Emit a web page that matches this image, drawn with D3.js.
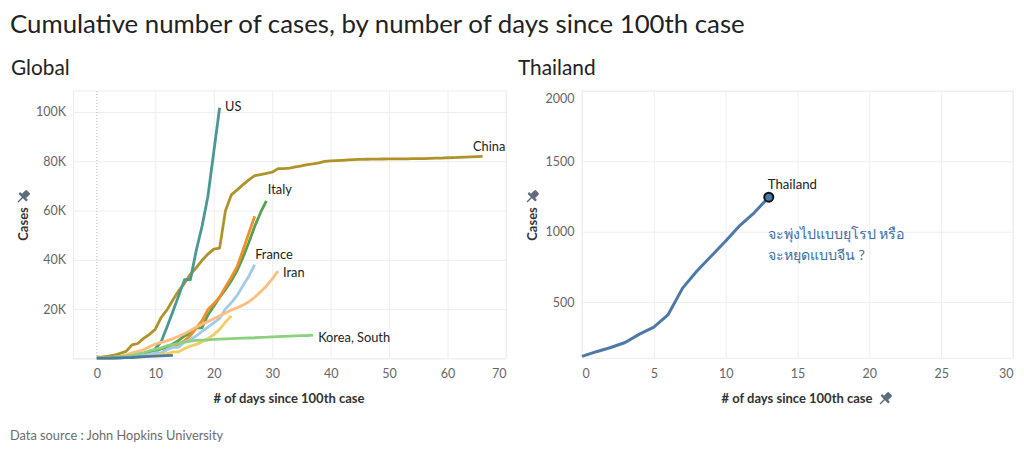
<!DOCTYPE html>
<html>
<head>
<meta charset="utf-8">
<script src="https://cdn.jsdelivr.net/npm/d3@7"></script>
<style>
    body { margin: 0; background: #fff; }
    svg text { font-family: Lato, "Open Sans", sans-serif; }
</style>
</head>
<body>
<div id="chart"></div>
<script>
// ---- data (cumulative cases, index = days since 100th case) ----
const chinaCases = [548, 643, 920, 1406, 2075, 2877, 5509, 6087, 8141, 9802,
    11891, 16630, 19716, 23707, 27440, 30587, 34110, 36814, 39829, 42354,
    44386, 44759, 59895, 66358, 68413, 70513, 72434, 74211, 74619, 75077,
    75550, 77001, 77022, 77241, 77754, 78166, 78600, 78928, 79356, 79932,
    80136, 80261, 80386, 80537, 80690, 80770, 80823, 80860, 80887, 80921,
    80932, 80945, 80977, 81003, 81033, 81058, 81102, 81156, 81250, 81305,
    81435, 81498, 81591, 81661, 81782, 81897, 81999];
const usCases = [100, 120, 160, 220, 300, 450, 600, 960, 1300, 1700,
    4000, 6800, 12800, 19100, 25500, 32000, 32000, 43800, 53700, 65800,
    83800, 101700];
const italyCases = [155, 229, 322, 453, 655, 888, 1128, 1694, 2036, 2502,
    3089, 3858, 4636, 5883, 7375, 9172, 10149, 12462, 12462, 17660,
    21157, 24747, 27980, 31506, 35713, 41035, 47021, 53578, 59138, 63927];
const germanyCases = [130, 159, 196, 262, 482, 670, 799, 1040, 1176, 1457,
    1908, 2078, 3675, 4585, 5795, 7272, 9257, 12327, 15320, 19848,
    22213, 24873, 29056, 32986, 37323, 43938, 50871, 57695];
const franceCases = [130, 191, 204, 288, 380, 656, 957, 1136, 1219, 1794,
    2293, 2293, 3681, 4496, 4532, 6683, 7715, 9124, 10970, 12758,
    14463, 16243, 20123, 22622, 25600, 29551, 33402, 38105];
const iranCases = [139, 245, 388, 593, 978, 1501, 2336, 2922, 3513, 4747,
    5823, 6566, 7161, 8042, 9000, 10075, 11364, 12729, 13938, 14991,
    16169, 17361, 18407, 19644, 20610, 21638, 23049, 24811, 27017, 29406,
    32332, 35408];
const ukCases = [116, 164, 207, 274, 322, 384, 459, 459, 802, 1144,
    1145, 1551, 1960, 2642, 2716, 4014, 5067, 5745, 6726, 8164,
    9640, 11812, 14745, 17312];
const koreaCases = [104, 204, 433, 602, 833, 977, 1261, 1766, 2337, 3150,
    3736, 4335, 5186, 5621, 6088, 6593, 7041, 7314, 7478, 7513,
    7755, 7869, 7979, 8086, 8162, 8236, 8320, 8413, 8565, 8652,
    8799, 8897, 8961, 9037, 9137, 9241, 9332, 9478];
const thailandCases = [114, 147, 177, 212, 272, 322, 411, 599, 721, 827,
    934, 1045, 1136, 1245];

const countryNames = ["China", "US", "Italy", "Germany", "France", "Iran", "United Kingdom", "Korea, South", "Thailand"];
const countrySeries = [chinaCases, usCases, italyCases, germanyCases, franceCases, iranCases, ukCases, koreaCases, thailandCases];
const labelledCountries = ["US", "China", "Italy", "France", "Iran", "Korea, South"];

const globalXTicks = [0, 10, 20, 30, 40, 50, 60, 70];
const globalYTicks = [20000, 40000, 60000, 80000, 100000];
const thaiXTicks = [0, 5, 10, 15, 20, 25, 30];
const thaiYTicks = [500, 1000, 1500, 2000];

const titleText = "Cumulative number of cases, by number of days since 100th case";
const sourceText = "Data source : John Hopkins University";
const xTitle = "# of days since 100th case";
const yTitle = "Cases";
const annotationLines = ["จะพุ่งไปแบบยุโรป หรือ", "จะหยุดแบบจีน ?"];

// ---- styles ----
const colors = {
    "China": "#b0922a", "US": "#499894", "Italy": "#59a14f", "Germany": "#f28e2b",
    "France": "#a0cbe8", "Iran": "#ffbe7d", "United Kingdom": "#f1ce63",
    "Korea, South": "#8cd17d", "Thailand": "#4e79a7"
};
// [dx, dy, anchor] relative to the last point of each line
const labelOffsets = {
    "US": [5.5, -2, "start"], "China": [6.5, -10.5, "middle"], "Italy": [1.5, -12, "start"],
    "France": [0.5, -10.5, "start"], "Iran": [5, 0.5, "start"], "Korea, South": [5, 2, "start"]
};
const gridColor = "#eeeeee";
const tickColor = "#666";
const pinColor = "#5d6b7c";

const width = 1024, height = 450;

const svg = d3.select("#chart").append("svg")
    .attr("width", width)
    .attr("height", height);

svg.append("text")
    .attr("x", 10).attr("y", 33)
    .attr("font-size", 25.8).attr("fill", "#222")
    .text(titleText);

svg.append("text")
    .attr("x", 10).attr("y", 440)
    .attr("font-size", 12.8).attr("fill", "#6b6b6b")
    .text(sourceText);

function drawPin(sel, cx, cy) {
    const p = sel.append("g")
        .attr("transform", `translate(${cx},${cy}) rotate(45)`)
        .attr("fill", pinColor);
    p.append("rect").attr("x", -3).attr("y", -7.5).attr("width", 6).attr("height", 6.5).attr("rx", 1.2);
    p.append("rect").attr("x", -5.5).attr("y", -1.5).attr("width", 11).attr("height", 2.4).attr("rx", 0.8);
    p.append("line").attr("x1", 0).attr("y1", 0).attr("x2", 0).attr("y2", 7)
        .attr("stroke", pinColor).attr("stroke-width", 1.4);
}

// generic panel: grid, axes, titles
function drawPanel(opt) {
    const g = svg.append("g");
    const [x0, x1] = opt.x.range();
    const [y0, y1] = opt.y.range(); // y0 = bottom

    g.append("text")
        .attr("x", opt.titleX).attr("y", 75)
        .attr("font-size", 20.8).attr("fill", "#222")
        .text(opt.title);

    // grid
    g.append("g")
        .attr("transform", `translate(0, ${y0})`)
        .call(d3.axisBottom(opt.x).tickValues(opt.gridX).tickSize(-(y0 - y1)).tickFormat(""))
        .call(a => a.select(".domain").remove())
        .selectAll("line").attr("stroke", gridColor);
    g.append("g")
        .attr("transform", `translate(${x0}, 0)`)
        .call(d3.axisLeft(opt.y).tickValues(opt.gridY).tickSize(-(x1 - x0)).tickFormat(""))
        .call(a => a.select(".domain").remove())
        .selectAll("line").attr("stroke", gridColor);
    // pane border
    g.append("rect")
        .attr("x", x0).attr("y", y1)
        .attr("width", x1 - x0).attr("height", y0 - y1)
        .attr("fill", "none").attr("stroke", gridColor);

    // x axis labels
    const xAxisG = g.append("g")
        .attr("transform", `translate(0, ${y0})`)
        .call(d3.axisBottom(opt.x).tickValues(opt.xTicks).tickSize(0).tickPadding(11));
    xAxisG.select(".domain").remove();
    xAxisG.selectAll("text")
        .attr("font-size", 12.5).attr("fill", tickColor)
        .attr("font-family", "Lato, sans-serif")
        .attr("text-anchor", d => d === opt.x.domain()[0] ? "start" : d === opt.x.domain()[1] ? "end" : "middle");

    // y axis labels
    const yAxisG = g.append("g")
        .attr("transform", `translate(${x0}, 0)`)
        .call(d3.axisLeft(opt.y).tickValues(opt.yTicks).tickSize(0).tickPadding(7.5).tickFormat(opt.yFormat));
    yAxisG.select(".domain").remove();
    yAxisG.selectAll("text")
        .attr("font-size", 12.5).attr("fill", tickColor)
        .attr("font-family", "Lato, sans-serif")
        .attr("dy", d => d === opt.y.domain()[1] ? "0.95em" : "0.32em");

    // axis titles
    g.append("text")
        .attr("x", opt.xTitleX).attr("y", 403)
        .attr("text-anchor", "middle")
        .attr("font-size", 13).attr("font-weight", 700).attr("fill", "#333")
        .text(xTitle);
    g.append("text")
        .attr("transform", `translate(${opt.yTitleX}, 224) rotate(-90)`)
        .attr("text-anchor", "middle")
        .attr("font-size", 13).attr("font-weight", 700).attr("fill", "#333")
        .text(yTitle);
    drawPin(g, opt.yTitleX - 5, 197);
    if (opt.xPin) drawPin(g, opt.xPin, 399);
    return g;
}

// ---------------- Global panel ----------------
const gx = d3.scaleLinear().domain([-4, 70]).range([73.5, 506]);
const gy = d3.scaleLinear().domain([0, 108500]).range([358.5, 91]);

const globalG = drawPanel({
    x: gx, y: gy, title: "Global", titleX: 11,
    gridX: globalXTicks.slice(1), gridY: [0].concat(globalYTicks),
    xTicks: globalXTicks, yTicks: globalYTicks,
    yFormat: d => (d / 1000) + "K",
    xTitleX: 289, yTitleX: 28
});

// dotted line at day 0
globalG.append("line")
    .attr("x1", gx(0)).attr("x2", gx(0))
    .attr("y1", gy.range()[1]).attr("y2", gy.range()[0])
    .attr("stroke", "#b5b5b5").attr("stroke-dasharray", "1,2");

const line = d3.line()
    .x((d, i) => gx(i))
    .y(d => gy(d));

const series = countryNames.map((name, i) => ({ name: name, values: countrySeries[i] }));

globalG.selectAll(".line")
    .data(series)
    .enter()
    .append("path")
    .attr("class", "line")
    .attr("d", d => line(d.values))
    .attr("fill", "none")
    .attr("stroke", d => colors[d.name])
    .attr("stroke-width", 2.8)
    .attr("stroke-linejoin", "round");

globalG.selectAll(".country-label")
    .data(series.filter(d => labelledCountries.includes(d.name)))
    .enter()
    .append("text")
    .attr("class", "country-label")
    .attr("x", d => gx(d.values.length - 1) + labelOffsets[d.name][0])
    .attr("y", d => gy(d.values[d.values.length - 1]) + labelOffsets[d.name][1])
    .attr("text-anchor", d => labelOffsets[d.name][2])
    .attr("dominant-baseline", "central")
    .attr("font-size", 12.8).attr("fill", "#222")
    .text(d => d.name);

// ---------------- Thailand panel ----------------
const tx = d3.scaleLinear().domain([0, 30]).range([582, 1013]);
const ty = d3.scaleLinear().domain([100, 2000]).range([358.3, 91]);

const thaiG = drawPanel({
    x: tx, y: ty, title: "Thailand", titleX: 518,
    gridX: thaiXTicks, gridY: thaiYTicks,
    xTicks: thaiXTicks, yTicks: thaiYTicks,
    yFormat: d3.format("d"),
    xTitleX: 797, yTitleX: 537, xPin: 885
});

const thaiLine = d3.line()
    .x((d, i) => tx(i))
    .y(d => ty(d));

thaiG.append("path")
    .datum(thailandCases)
    .attr("d", thaiLine)
    .attr("fill", "none")
    .attr("stroke", colors["Thailand"])
    .attr("stroke-width", 3)
    .attr("stroke-linejoin", "round");

const lastDay = thailandCases.length - 1;
const lastVal = thailandCases[lastDay];

thaiG.append("circle")
    .attr("cx", tx(lastDay)).attr("cy", ty(lastVal))
    .attr("r", 4.5)
    .attr("fill", colors["Thailand"])
    .attr("stroke", "#111").attr("stroke-width", 2);

thaiG.append("text")
    .attr("x", tx(lastDay) - 1).attr("y", ty(lastVal) - 13)
    .attr("dominant-baseline", "central")
    .attr("font-size", 13.2).attr("fill", "#222")
    .text("Thailand");

thaiG.selectAll(".annot")
    .data(annotationLines)
    .enter()
    .append("text")
    .attr("class", "annot")
    .attr("x", tx(lastDay) - 1)
    .attr("y", (d, i) => ty(lastVal) + 36 + i * 21)
    .attr("dominant-baseline", "central")
    .attr("font-size", 14.2)
    .attr("font-family", "'Noto Sans Thai', 'Noto Sans Thai UI', Loma, Garuda, 'Tlwg Typo', sans-serif")
    .attr("fill", "#3e6ea3")
    .text(d => d);
</script>
</body>
</html>
